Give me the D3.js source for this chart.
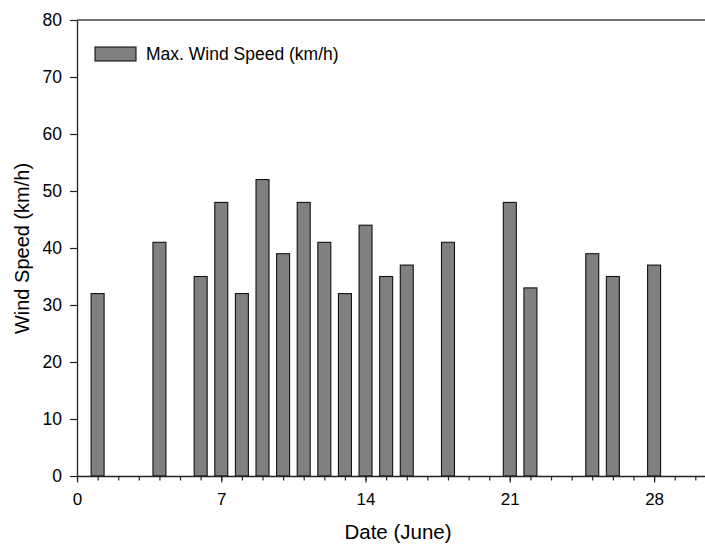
<!DOCTYPE html>
<html><head><meta charset="utf-8">
<script src="https://cdn.jsdelivr.net/npm/d3@7"></script>
<style>body{margin:0;background:#fff}svg{display:block;font-family:"Liberation Sans",Arial,sans-serif}</style>
</head><body>
<svg id="c" width="705" height="546"></svg>
<script>
const days = [1,4,6,7,8,9,10,11,12,13,14,15,16,18,21,22,25,26,28];
const speeds = [32,41,35,48,32,52,39,48,41,32,44,35,37,41,48,33,39,35,37];
const xMajorTicks = [0,7,14,21,28];
const yTicks = [0,10,20,30,40,50,60,70,80];
const seriesName = "Max. Wind Speed (km/h)";
const xTitle = "Date (June)";
const yTitle = "Wind Speed (km/h)";

const svg = d3.select("#c");
const L = 77, R = 705, T = 20, B = 476;
const x = d3.scaleLinear().domain([0, 30.47]).range([L, R]);
const y = d3.scaleLinear().domain([0, 80]).range([B, T]);
const bw = (x(1) - x(0)) * 0.63;
const FF = "Liberation Sans, Arial, sans-serif";

// bars
svg.append("g").selectAll("rect").data(days.map((d,i)=>({d, v:speeds[i]}))).join("rect")
  .attr("x", d => x(d.d) - bw/2).attr("y", d => y(d.v))
  .attr("width", bw).attr("height", d => y(0) - y(d.v))
  .attr("fill", "#808080").attr("stroke", "#111").attr("stroke-width", 1.1);

// x axis minor ticks
const minor = d3.range(0, 31);
const gx = svg.append("g").attr("transform", `translate(0,${B})`);
gx.call(d3.axisBottom(x).tickValues(minor).tickSize(4.5).tickFormat(""));
gx.call(g => g.select(".domain").remove());
const gx2 = svg.append("g").attr("transform", `translate(0,${B})`)
  .call(d3.axisBottom(x).tickValues(xMajorTicks).tickSize(6.5).tickSizeOuter(0).tickPadding(10));
gx2.select(".domain").attr("stroke", "#222").attr("stroke-width", 1.3);
svg.selectAll(".tick line").attr("stroke", "#222").attr("stroke-width", 1.2);
gx2.selectAll("text").attr("font-size", 17).attr("fill", "#000").attr("font-family", FF);

// y axis
const gy = svg.append("g").attr("transform", `translate(${L},0)`)
  .call(d3.axisLeft(y).tickValues(yTicks).tickSize(7).tickSizeOuter(0).tickPadding(8));
gy.select(".domain").attr("stroke", "#222").attr("stroke-width", 1.3);
gy.selectAll(".tick line").attr("stroke", "#222").attr("stroke-width", 1.2);
gy.selectAll("text").attr("font-size", 17.5).attr("fill", "#000").attr("font-family", FF);

// top frame line
svg.append("line").attr("x1", L).attr("x2", R).attr("y1", y(80)).attr("y2", y(80))
  .attr("stroke", "#444").attr("stroke-width", 1.6);

// legend
svg.append("rect").attr("x", 95).attr("y", 47).attr("width", 41).attr("height", 14)
  .attr("fill", "#808080").attr("stroke", "#111").attr("stroke-width", 1.1);
svg.append("text").attr("x", 146).attr("y", 59.5).attr("font-size", 17.5).text(seriesName);

// axis titles
svg.append("text").attr("x", 398).attr("y", 539).attr("text-anchor", "middle")
  .attr("font-size", 20.5).text(xTitle);
svg.append("text").attr("transform", `translate(28.5,248.5) rotate(-90)`)
  .attr("text-anchor", "middle").attr("font-size", 20).text(yTitle);
</script>
</body></html>
